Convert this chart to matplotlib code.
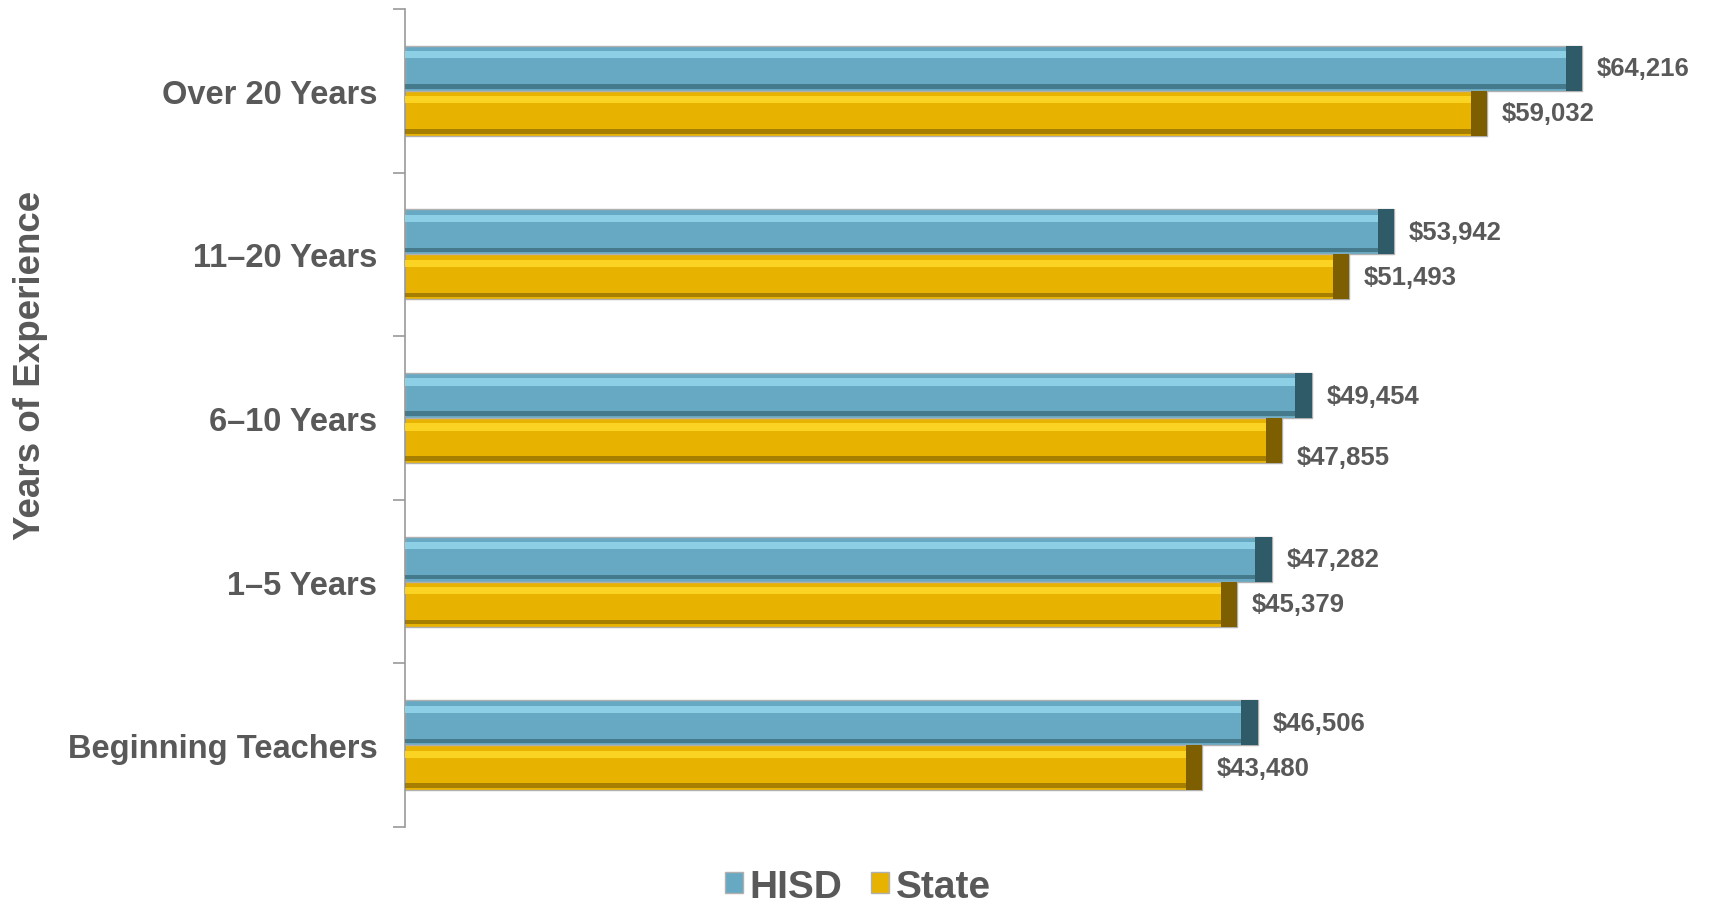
import numpy as np
import matplotlib.pyplot as plt

plt.rcParams['font.family'] = ['Liberation Sans', 'DejaVu Sans']

# data, bottom category first
categories = ["Beginning Teachers", "1\u20135 Years", "6\u201310 Years", "11\u201320 Years", "Over 20 Years"]
hisd = [46506, 47282, 49454, 53942, 64216]
state = [43480, 45379, 47855, 51493, 59032]
hisd_labels = ["$46,506", "$47,282", "$49,454", "$53,942", "$64,216"]
state_labels = ["$43,480", "$45,379", "$47,855", "$51,493", "$59,032"]

text_color = "#595959"
h = 0.275

fig = plt.figure(figsize=(17.09, 9.04), dpi=100)
ax = fig.add_axes([0.237, 0.084, 0.751, 0.905])

y = np.arange(len(categories))


def bevel_bars(ypos, vals, main, light, dark, label):
    ax.barh(ypos, vals, height=h, color=main, edgecolor="#b0b0b0", linewidth=1.0, label=label, zorder=2)
    # top highlight and bottom shadow strips (bevel look)
    ax.barh(ypos + h * 0.3, vals, height=h * 0.16, color=light, linewidth=0, alpha=0.85, zorder=3)
    ax.barh(ypos - h * 0.4, vals, height=h * 0.1, color=dark, linewidth=0, alpha=0.6, zorder=3)
    # right-end shadow
    for yy, v in zip(ypos, vals):
        ax.barh(yy, 900, left=v - 900, height=h, color=dark, linewidth=0, zorder=4)


bevel_bars(y + h / 2, hisd, "#67a9c2", "#94d6ec", "#2f5a68", "HISD")
bevel_bars(y - h / 2, state, "#e8b200", "#ffd92a", "#7d5e00", "State")

state_offsets = [0, 0, -0.1, 0, 0]
for i in range(len(categories)):
    ax.text(hisd[i] + 800, y[i] + h / 2, hisd_labels[i], va="center", ha="left",
            fontsize=18.5, fontweight="bold", color=text_color)
    ax.text(state[i] + 800, y[i] - h / 2 + state_offsets[i], state_labels[i], va="center", ha="left",
            fontsize=18.5, fontweight="bold", color=text_color)

ax.set_xlim(0, 70000)
ax.set_ylim(-0.5, len(categories) - 0.5)
ax.set_xticks([])
ax.set_yticks(y)
ax.set_yticklabels(categories, fontsize=23.5, fontweight="bold", color=text_color)
ax.set_yticks(np.arange(-0.5, len(categories)), minor=True)
ax.tick_params(axis="y", which="major", length=0, pad=20)
ax.tick_params(axis="y", which="minor", length=9, color="#999999", width=1.2)
for s in ["top", "right", "bottom"]:
    ax.spines[s].set_visible(False)
ax.spines["left"].set_color("#999999")
ax.spines["left"].set_linewidth(1.2)

fig.text(0.018, 0.596, "Years of Experience", rotation=90, va="center", ha="center",
         fontsize=26.5, fontweight="bold", color=text_color)

handles, labels = ax.get_legend_handles_labels()
leg = fig.legend(handles, labels, loc="center", bbox_to_anchor=(0.502, 0.018), ncol=2,
                 frameon=False, handlelength=0.45, handleheight=0.45, handletextpad=0.17,
                 columnspacing=0.75, prop={"size": 28, "weight": "bold"})
for t in leg.get_texts():
    t.set_color(text_color)

fig.savefig("out.png", dpi=100)
